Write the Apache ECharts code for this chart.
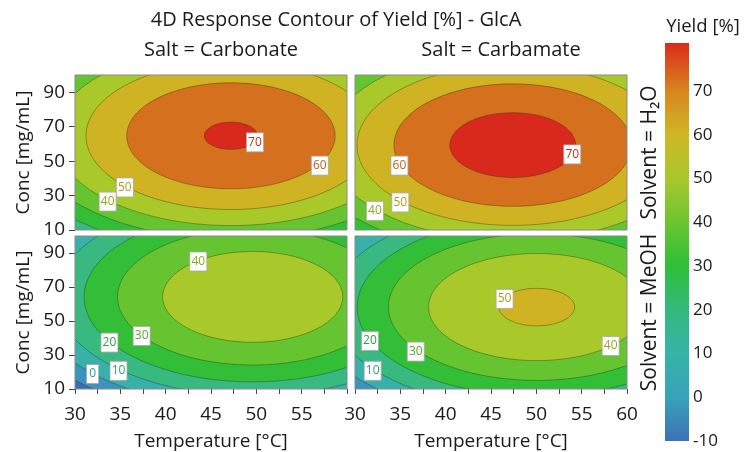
<!DOCTYPE html>
<html><head><meta charset="utf-8">
<script src="https://cdn.jsdelivr.net/npm/echarts@6/dist/echarts.min.js"></script>
<style>html,body{margin:0;padding:0;background:#fff}#c{width:745px;height:452px}</style>
</head><body><div id="c"></div>
<script>
// ---- data ----
// panels: 0 Carbonate/H2O, 1 Carbamate/H2O, 2 Carbonate/MeOH, 3 Carbamate/MeOH
const saltNames = ['Carbonate', 'Carbamate'];
const solventNames = ['H₂O', 'MeOH'];
// quadratic response-surface parameters
const peakYield = [70.7, 73.9, 48.0, 51.4];
const peakTemp = [47.2, 47.4, 49.6, 50.05];
const peakConc = [64.7, 59.3, 64.2, 58.2];
const curvTemp = [0.081, 0.081, 0.081, 0.080];
const curvConc = [0.0113, 0.0110, 0.0112, 0.0115];
const contourLevels = [-10, 0, 10, 20, 30, 40, 50, 60, 70];
// fill for: below -10, [-10,0], [0,10], ... [70,80]
const bandColors = ['#3c6db4', '#3b93c0', '#38b1aa', '#37b97f', '#33be38', '#66c430', '#a9c92b', '#d0b323', '#d5701f', '#d9291c'];
// text colour of the label sitting on each contour level
const levelTextColors = ['#2f7fae', '#2f9c95', '#2fa070', '#2ea236', '#55a82a', '#8fa824', '#b09a1e', '#c2601a', '#c42a1a'];
// contour label positions [Temperature, Conc, level]
const labels0 = [[49.85, 60.9, 70], [57.0, 47.4, 60], [35.5, 34.7, 50], [33.6, 26.5, 40]];
const labels1 = [[53.96, 53.9, 70], [34.9, 47.4, 60], [35.0, 26.0, 50], [32.2, 21.1, 40]];
const labels2 = [[43.6, 85.0, 40], [37.35, 41.2, 30], [33.8, 37.3, 20], [34.8, 20.7, 10], [31.95, 18.8, 0]];
const labels3 = [[46.5, 63.0, 50], [58.2, 35.3, 40], [36.7, 32.0, 30], [31.65, 38.2, 20], [31.95, 20.7, 10]];
const panelLabels = [labels0, labels1, labels2, labels3];
const tempTicks = [30, 32.5, 35, 37.5, 40, 42.5, 45, 47.5, 50, 52.5, 55, 57.5, 60];
const tempLabels = [30, 35, 40, 45, 50, 55, 60];
const concLabels = [10, 30, 50, 70, 90];
const colorbarTicks = [-10, 0, 10, 20, 30, 40, 50, 60, 70];
const colorbarStops = [[-10, '#3c71b6'], [0, '#38a3b8'], [10, '#36b4a6'], [20, '#34b97d'], [30, '#2ebf37'], [40, '#6cc531'], [50, '#a8c82c'], [60, '#cfb725'], [70, '#d6861f'], [81, '#da2b1b']];
const cbMin = -10, cbMax = 81;

const FONT = 'Open Sans';
const TXT = '#1a1a1a';

const gridRects = [
  {left: 75, top: 75, width: 272, height: 155},
  {left: 355, top: 75, width: 272, height: 155},
  {left: 75, top: 236, width: 272, height: 154},
  {left: 355, top: 236, width: 272, height: 154}
];

const grids = gridRects.map(r => Object.assign({show: true, borderColor: '#8a8a8a', borderWidth: 1, backgroundColor: 'transparent', z: 5}, r));
grids.push({left: 665, top: 43, width: 24, height: 398, show: false});

const xAxes = [], yAxes = [], series = [];
for (let p = 0; p < 4; p++) {
  const bottom = p >= 2, left = p % 2 === 0;
  xAxes.push({
    type: 'value', gridIndex: p, min: 30, max: 60,
    axisLine: {show: false}, splitLine: {show: false},
    axisTick: {show: bottom, length: 5, lineStyle: {color: '#444'}, customValues: tempTicks},
    axisLabel: {show: bottom, fontFamily: FONT, fontSize: 19, color: TXT, margin: 16,
      customValues: (p === 2 ? tempLabels.slice(0, -1) : tempLabels)},
    name: bottom ? 'Temperature [°C]' : '', nameLocation: 'middle', nameGap: 43,
    nameTextStyle: {fontFamily: FONT, fontSize: 19, color: TXT}
  });
  yAxes.push({
    type: 'value', gridIndex: p, min: 10, max: 100, position: left ? 'left' : 'right',
    axisLine: {show: false}, splitLine: {show: false},
    axisTick: {show: left, length: 6, lineStyle: {color: '#444'}, customValues: concLabels},
    axisLabel: {show: left, fontFamily: FONT, fontSize: 19, color: TXT, margin: 10, customValues: concLabels},
    name: left ? 'Conc [mg/mL]' : 'Solvent = ' + solventNames[p >> 1],
    nameLocation: 'middle', nameGap: left ? 42 : 13, nameRotate: 90,
    nameTextStyle: {fontFamily: FONT, fontSize: left ? 19 : 21, color: TXT}
  });

  series.push({
    type: 'custom', xAxisIndex: p, yAxisIndex: p, clip: true, z: 2, silent: true,
    data: [[peakTemp[p], peakConc[p], peakYield[p]]],
    renderItem: function (params, api) {
      const Tc = api.value(0), Cc = api.value(1), P = api.value(2);
      const c0 = api.coord([30, 100]), c1 = api.coord([60, 10]);
      const children = [{type: 'rect', shape: {x: c0[0], y: c0[1], width: c1[0] - c0[0], height: c1[1] - c0[1]},
        style: {fill: bandColors[0]}}];
      const c = api.coord([Tc, Cc]);
      contourLevels.forEach((L, i) => {
        if (P <= L) return;
        const rT = Math.sqrt((P - L) / curvTemp[p]);
        const rC = Math.sqrt((P - L) / curvConc[p]);
        const px = api.coord([Tc + rT, Cc]);
        const py = api.coord([Tc, Cc + rC]);
        children.push({type: 'ellipse', shape: {cx: c[0], cy: c[1], rx: Math.abs(px[0] - c[0]), ry: Math.abs(c[1] - py[1])},
          style: {fill: bandColors[i + 1], stroke: 'rgba(40,40,20,0.45)', lineWidth: 0.8}});
      });
      return {type: 'group', children};
    }
  });

  series.push({
    type: 'scatter', xAxisIndex: p, yAxisIndex: p, z: 4, silent: true,
    symbol: 'rect',
    symbolSize: v => (String(v[2]).length > 1 ? [17, 19] : [12, 19]),
    itemStyle: {color: '#ffffff', borderColor: '#a8a8a8', borderWidth: 0.8, opacity: 1},
    data: panelLabels[p].map(d => ({
      value: d,
      label: {color: levelTextColors[contourLevels.indexOf(d[2])]}
    })),
    label: {show: true, position: 'inside', formatter: v => String(v.value[2]),
      fontFamily: FONT, fontSize: 12}
  });
}

// colorbar
xAxes.push({type: 'value', gridIndex: 4, min: 0, max: 1, show: false});
yAxes.push({type: 'value', gridIndex: 4, min: cbMin, max: cbMax, position: 'right',
  axisLine: {show: false}, axisTick: {show: false}, splitLine: {show: false},
  axisLabel: {fontFamily: FONT, fontSize: 17, color: TXT, margin: 4, customValues: colorbarTicks}});
series.push({
  type: 'custom', xAxisIndex: 4, yAxisIndex: 4, silent: true,
  data: [[0, cbMin, 1, cbMax]],
  renderItem: function (params, api) {
    const a = api.coord([api.value(0), api.value(1)]);
    const b = api.coord([api.value(2), api.value(3)]);
    const span = cbMax - cbMin;
    return {type: 'rect', shape: {x: a[0], y: b[1], width: b[0] - a[0], height: a[1] - b[1]},
      style: {fill: new echarts.graphic.LinearGradient(0, 1, 0, 0,
        colorbarStops.map(s => ({offset: (s[0] - cbMin) / span, color: s[1]})))}};
  }
});

const chart = echarts.init(document.getElementById('c'), null, {renderer: 'canvas'});
chart.setOption({
  animation: false,
  grid: grids, xAxis: xAxes, yAxis: yAxes, series,
  graphic: [
    {type: 'text', x: 336, y: 20, style: {text: '4D Response Contour of Yield [%] - GlcA', align: 'center', verticalAlign: 'middle', font: '20px "Open Sans"', fill: TXT}},
    {type: 'text', x: 221, y: 50, style: {text: 'Salt = ' + saltNames[0], align: 'center', verticalAlign: 'middle', font: '20px "Open Sans"', fill: TXT}},
    {type: 'text', x: 501, y: 50, style: {text: 'Salt = ' + saltNames[1], align: 'center', verticalAlign: 'middle', font: '20px "Open Sans"', fill: TXT}},
    {type: 'text', x: 703, y: 27, style: {text: 'Yield [%]', align: 'center', verticalAlign: 'middle', font: '18.5px "Open Sans"', fill: TXT}}
  ]
});
</script></body></html>
